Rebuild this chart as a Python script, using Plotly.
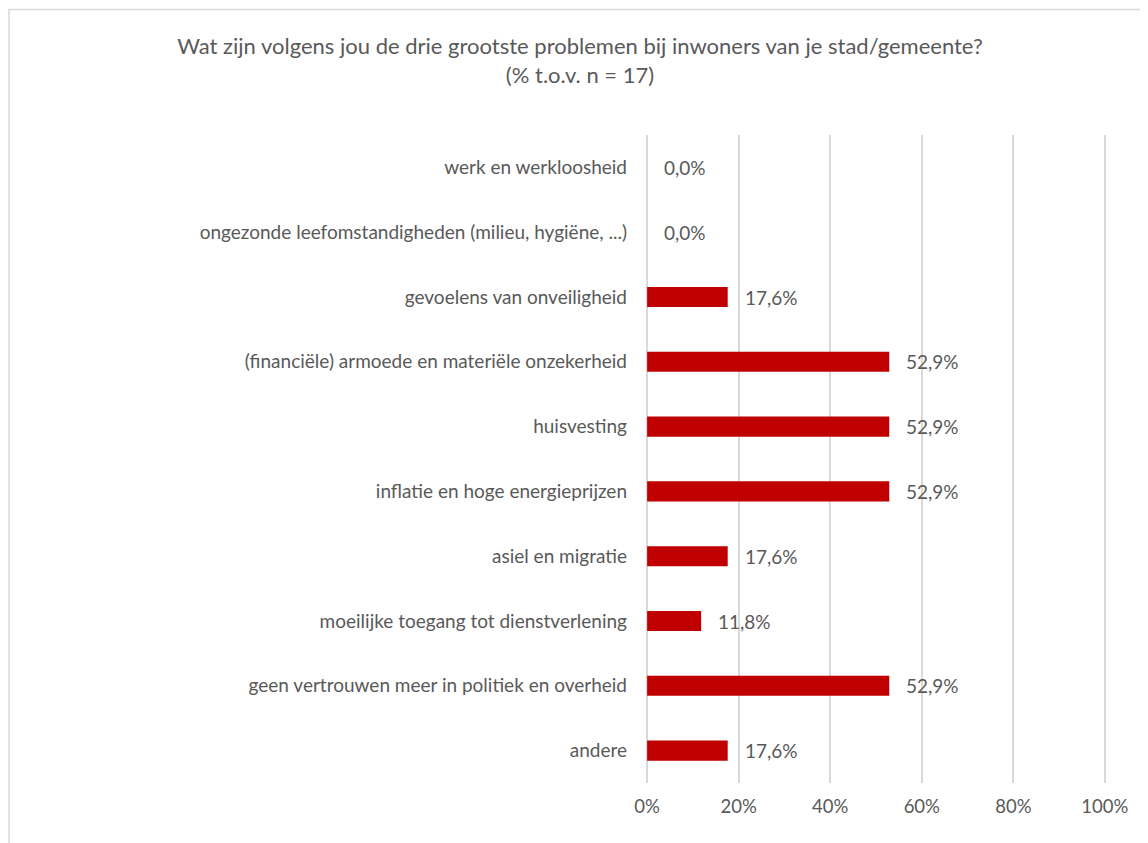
import plotly.graph_objects as go

categories = [
    "werk en werkloosheid",
    "ongezonde leefomstandigheden (milieu, hygiëne, ...)",
    "gevoelens van onveiligheid",
    "(financiële) armoede en materiële onzekerheid",
    "huisvesting",
    "inflatie en hoge energieprijzen",
    "asiel en migratie",
    "moeilijke toegang tot dienstverlening",
    "geen vertrouwen meer in politiek en overheid",
    "andere",
]
values = [0.0, 0.0, 17.6, 52.9, 52.9, 52.9, 17.6, 11.8, 52.9, 17.6]
x_ticks = [0, 20, 40, 60, 80, 100]
x_tick_labels = ["0%", "20%", "40%", "60%", "80%", "100%"]

FONT = "Lato, 'Open Sans', sans-serif"
GREY = "#595959"

W, H = 1140, 835
L, R, T, B = 638, 42, 126.5, 60
PW, PH = W - L - R, H - T - B

fig = go.Figure()
fig.add_trace(go.Bar(
    x=values,
    y=categories,
    orientation="h",
    marker=dict(color="#C00000", line=dict(width=0)),
    width=0.31,
    hoverinfo="skip",
))

for c, v in zip(categories, values):
    fig.add_annotation(
        x=v, y=c, xref="x", yref="y",
        text=f"{v:.1f}%".replace(".", ","),
        showarrow=False, xanchor="left", yanchor="middle",
        xshift=15, font=dict(family=FONT, size=19, color=GREY),
    )

fig.update_layout(
    width=W, height=H,
    paper_bgcolor="white", plot_bgcolor="white",
    margin=dict(l=L, r=R, t=T, b=B),
    showlegend=False,
    title=dict(
        text="Wat zijn volgens jou de drie grootste problemen bij inwoners van je stad/gemeente?<br>(% t.o.v. n = 17)",
        x=572 / W, xanchor="center", y=1 - 46 / H, yanchor="top",
        yref="container",
        font=dict(family=FONT, size=22, color=GREY),
    ),
    xaxis=dict(
        range=[-0.25, 100.25], tickvals=x_ticks, ticktext=x_tick_labels,
        showgrid=True, gridcolor="#D9D9D9", gridwidth=1.5,
        zeroline=False, showline=False,
        tickfont=dict(family=FONT, size=18.5, color=GREY),
        ticklabelstandoff=10,
        fixedrange=True,
    ),
    yaxis=dict(
        autorange="reversed",
        showgrid=False, zeroline=False, showline=False,
        tickfont=dict(family=FONT, size=19, color=GREY),
        ticklabelstandoff=18,
        fixedrange=True,
    ),
    shapes=[dict(
        type="rect", xref="paper", yref="paper",
        x0=(1 - L) / PW, x1=1 + (R + 20) / PW,
        y0=-(B + 20) / PH, y1=1 + (T - 1) / PH,
        line=dict(color="#D9D9D9", width=1.5), fillcolor="rgba(0,0,0,0)",
        layer="below",
    )],
)

fig.write_html("out.html")
